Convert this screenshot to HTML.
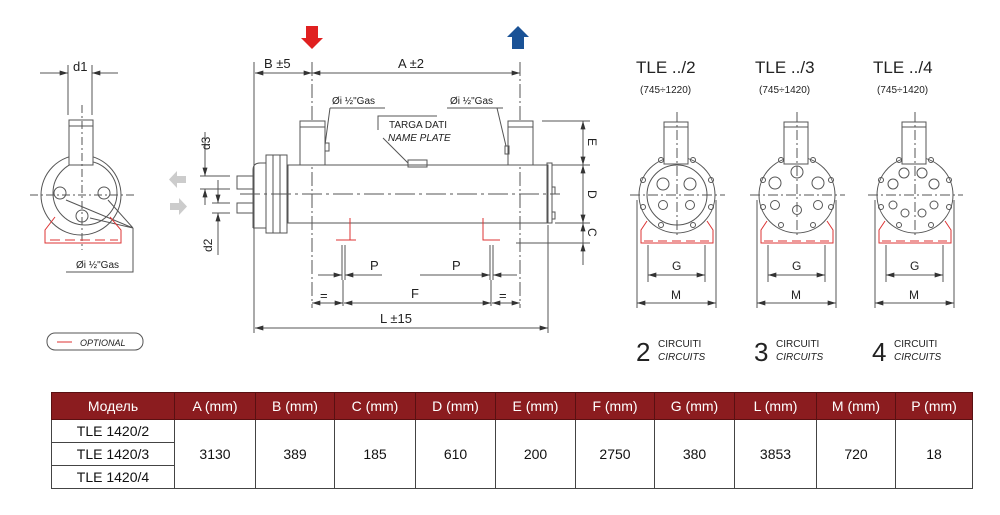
<!DOCTYPE html>
<html><head><meta charset="utf-8"><style>
body{margin:0;background:#fff;width:1000px;height:515px;overflow:hidden;font-family:"Liberation Sans","Noto Sans CJK SC",sans-serif}
svg{position:absolute;left:0;top:0}
.t{font-family:"Liberation Sans",sans-serif;fill:#222}
table{position:absolute;left:51px;top:392px;border-collapse:collapse;font-family:"Liberation Sans","DejaVu Sans",sans-serif;font-size:14px;color:#111}
td,th{border:1px solid #444;text-align:center;padding:0}
th{background:#8b1c1f;color:#fff;font-weight:normal;height:26px;border-color:#5a1012}
td{height:22px}
</style></head><body>
<svg width="1000" height="390" viewBox="0 0 1000 390">
<defs>
<marker id="a" viewBox="0 0 10 6" refX="10" refY="3" markerWidth="9" markerHeight="5" orient="auto-start-reverse"><path d="M0,0L10,3L0,6z" fill="#333"/></marker>
</defs>
<g stroke="#555" stroke-width="1" fill="none">
<!-- left end view -->
<line x1="68" y1="65" x2="68" y2="115"/><line x1="92" y1="65" x2="92" y2="115"/>
<line x1="40" y1="73" x2="68" y2="73" marker-end="url(#a)"/><line x1="118" y1="73" x2="92" y2="73" marker-end="url(#a)"/>
<circle cx="81" cy="195" r="40"/><circle cx="85" cy="193" r="32"/>
<rect x="69" y="120" width="24" height="45" fill="#fff"/><line x1="69" y1="126" x2="93" y2="126"/>
<line x1="30" y1="195" x2="135" y2="195" stroke-dasharray="8,3,2,3"/>
<line x1="82" y1="105" x2="82" y2="250" stroke-dasharray="8,3,2,3"/>
<circle cx="60" cy="193" r="6"/><circle cx="104" cy="193" r="6"/><circle cx="82" cy="216" r="6"/>
<path d="M133,228L66,200M133,228L108,200M133,228L90,218M133,228L133,272L66,272"/>
<!-- main view -->
<line x1="254" y1="62" x2="254" y2="333"/>
<line x1="312" y1="62" x2="312" y2="308" stroke-dasharray="14,3,2,3"/>
<line x1="520" y1="62" x2="520" y2="308" stroke-dasharray="14,3,2,3"/>
<line x1="548" y1="225" x2="548" y2="333"/>
<line x1="255" y1="73" x2="312" y2="73" marker-start="url(#a)" marker-end="url(#a)"/>
<line x1="312" y1="73" x2="520" y2="73" marker-start="url(#a)" marker-end="url(#a)"/>
<rect x="288" y="165" width="260" height="58"/>
<rect x="547" y="163" width="5" height="60"/>
<rect x="552" y="187" width="3" height="7"/><rect x="552" y="212" width="3" height="7"/>
<rect x="300" y="121" width="25" height="44" fill="#fff"/><line x1="300" y1="127" x2="325" y2="127"/>
<rect x="508" y="121" width="25" height="44" fill="#fff"/><line x1="508" y1="127" x2="533" y2="127"/>
<rect x="325" y="143" width="4" height="8"/><rect x="505" y="146" width="4" height="8"/>
<rect x="408" y="160" width="19" height="7"/>
<path d="M253,228L253,170Q253,163 260,163L266,163"/><line x1="253" y1="228" x2="266" y2="228"/>
<rect x="266" y="155" width="21" height="78" fill="#fff"/><line x1="273" y1="155" x2="273" y2="233"/><line x1="280" y1="155" x2="280" y2="233"/>
<rect x="237" y="176" width="16" height="13"/><rect x="237" y="203" width="16" height="10"/>
<line x1="240" y1="194" x2="560" y2="194" stroke-dasharray="20,4,3,4"/>
<path d="M200,176H230M200,189H230M212,203H230M212,213H230"/>
<line x1="205" y1="132" x2="205" y2="176" marker-end="url(#a)"/><line x1="205" y1="205" x2="205" y2="189" marker-end="url(#a)"/>
<line x1="218" y1="180" x2="218" y2="203" marker-end="url(#a)"/><line x1="218" y1="255" x2="218" y2="213" marker-end="url(#a)"/>
<path d="M330,108H385M330,108L325,145M447,108H503M497,108L506,146M383,138L408,163M378,130V116H437"/>
<!-- right dims -->
<path d="M542,121H590M552,165H590M555,223H590M516,243H590"/>
<line x1="583" y1="121" x2="583" y2="165" marker-start="url(#a)" marker-end="url(#a)"/>
<line x1="583" y1="165" x2="583" y2="223" marker-start="url(#a)" marker-end="url(#a)"/>
<line x1="583" y1="223" x2="583" y2="243" marker-start="url(#a)"/>
<line x1="583" y1="243" x2="583" y2="265" marker-start="url(#a)"/>
<!-- P, F, L -->
<path d="M342,245V280M345,245V280M490,245V280M493,245V280"/>
<line x1="318" y1="275" x2="342" y2="275" marker-end="url(#a)"/><line x1="382" y1="275" x2="345" y2="275" marker-end="url(#a)"/>
<line x1="420" y1="275" x2="490" y2="275" marker-end="url(#a)"/><line x1="517" y1="275" x2="493" y2="275" marker-end="url(#a)"/>
<line x1="343" y1="280" x2="343" y2="306"/><line x1="491" y1="280" x2="491" y2="306"/>
<line x1="312" y1="303" x2="343" y2="303" marker-start="url(#a)" marker-end="url(#a)"/>
<line x1="344" y1="303" x2="491" y2="303" marker-start="url(#a)" marker-end="url(#a)"/>
<line x1="492" y1="303" x2="520" y2="303" marker-start="url(#a)" marker-end="url(#a)"/>
<line x1="255" y1="328" x2="548" y2="328" marker-start="url(#a)" marker-end="url(#a)"/>
<rect x="47" y="333" width="96" height="17" rx="8"/>
</g>
<g stroke="#d33" stroke-width="1" fill="none">
<path d="M55,217L45,230V243H121V230L110,217"/><path d="M50,240H118" stroke-dasharray="10,5"/>
<path d="M350,218V240H336M350,240H356M483,218V240H500"/>
<line x1="57" y1="342" x2="72" y2="342"/>
</g>
<path d="M306,26h12v12h5l-11,11l-11,-11h5z" fill="#e02020"/>
<path d="M512,49h12v-12h5l-11,-11l-11,11h5z" fill="#1a5296"/>
<path d="M186,176h-9v-5l-8,8.5l8,8.5v-5h9z" fill="#ccc"/>
<path d="M170,203h9v-5l8,8.5l-8,8.5v-5h-9z" fill="#ccc"/>
<g class="t" font-size="13">
<text x="73" y="71">d1</text>
<text x="264" y="68">B ±5</text><text x="398" y="68">A ±2</text>
<text x="332" y="104" font-size="10">Øi ½"Gas</text><text x="450" y="104" font-size="10">Øi ½"Gas</text>
<text x="389" y="128" font-size="10">TARGA DATI</text><text x="388" y="141" font-size="10" font-style="italic">NAME PLATE</text>
<text x="76" y="268" font-size="10">Øi ½"Gas</text>
<text x="80" y="346" font-size="9" font-style="italic">OPTIONAL</text>
<text transform="translate(210,150) rotate(-90)" font-size="12">d3</text>
<text transform="translate(212,252) rotate(-90)" font-size="12">d2</text>
<text transform="translate(588,138) rotate(90)" font-size="12">E</text>
<text transform="translate(588,190) rotate(90)" font-size="12">D</text>
<text transform="translate(588,228) rotate(90)" font-size="12">C</text>
<text x="370" y="270">P</text><text x="452" y="270">P</text>
<text x="320" y="300">=</text><text x="499" y="300">=</text><text x="411" y="298">F</text>
<text x="380" y="323">L ±15</text>
</g>
<!-- right side views -->
<g id="v1">
<g stroke="#555" fill="none">
<circle cx="677" cy="195" r="38"/><circle cx="677" cy="195" r="30"/>
<rect x="664" y="122" width="24" height="42" fill="#fff"/><line x1="664" y1="127" x2="688" y2="127"/>
<line x1="630" y1="195" x2="725" y2="195" stroke-dasharray="10,3,2,3"/><line x1="677" y1="112" x2="677" y2="235" stroke-dasharray="10,3,2,3"/>
<circle cx="663" cy="184" r="6"/><circle cx="690" cy="184" r="6"/><circle cx="663" cy="205" r="4.5"/><circle cx="690" cy="205" r="4.5"/>
<circle cx="661" cy="160" r="2.5"/><circle cx="693" cy="160" r="2.5"/><circle cx="643" cy="180" r="2.5"/><circle cx="711" cy="180" r="2.5"/><circle cx="643" cy="207" r="2.5"/><circle cx="711" cy="207" r="2.5"/><circle cx="661" cy="225" r="2.5"/><circle cx="693" cy="225" r="2.5"/>
<path d="M648,245V282M705,245V282M637,200V308M716,200V308"/>
<line x1="648" y1="275" x2="705" y2="275" marker-start="url(#a)" marker-end="url(#a)"/>
<line x1="637" y1="303" x2="716" y2="303" marker-start="url(#a)" marker-end="url(#a)"/>
</g>
<g stroke="#d33" fill="none"><path d="M647,221L641,230V243H713V230L707,221"/><path d="M644,241H712" stroke-dasharray="9,5"/></g>
</g>
<g stroke="#555" fill="none">
<circle cx="797" cy="195" r="38"/>
<rect x="784" y="122" width="24" height="42" fill="#fff"/><line x1="784" y1="127" x2="808" y2="127"/>
<line x1="750" y1="195" x2="845" y2="195" stroke-dasharray="10,3,2,3"/><line x1="797" y1="112" x2="797" y2="235" stroke-dasharray="10,3,2,3"/>
<circle cx="797" cy="172" r="6"/><circle cx="775" cy="183" r="6"/><circle cx="818" cy="183" r="6"/><circle cx="775" cy="205" r="4.5"/><circle cx="818" cy="205" r="4.5"/><circle cx="797" cy="210" r="4.5"/>
<circle cx="781" cy="160" r="2.5"/><circle cx="813" cy="160" r="2.5"/><circle cx="763" cy="180" r="2.5"/><circle cx="831" cy="180" r="2.5"/><circle cx="763" cy="207" r="2.5"/><circle cx="831" cy="207" r="2.5"/><circle cx="781" cy="225" r="2.5"/><circle cx="813" cy="225" r="2.5"/>
<path d="M768,245V282M825,245V282M757,200V308M836,200V308"/>
<line x1="768" y1="275" x2="825" y2="275" marker-start="url(#a)" marker-end="url(#a)"/>
<line x1="757" y1="303" x2="836" y2="303" marker-start="url(#a)" marker-end="url(#a)"/>
<circle cx="915" cy="195" r="38"/>
<rect x="902" y="122" width="24" height="42" fill="#fff"/><line x1="902" y1="127" x2="926" y2="127"/>
<line x1="868" y1="195" x2="963" y2="195" stroke-dasharray="10,3,2,3"/><line x1="915" y1="112" x2="915" y2="235" stroke-dasharray="10,3,2,3"/>
<circle cx="893" cy="184" r="5"/><circle cx="904" cy="173" r="5"/><circle cx="922" cy="173" r="5"/><circle cx="934" cy="184" r="5"/>
<circle cx="893" cy="205" r="4"/><circle cx="905" cy="213" r="4"/><circle cx="922" cy="213" r="4"/><circle cx="934" cy="205" r="4"/>
<circle cx="899" cy="160" r="2.5"/><circle cx="931" cy="160" r="2.5"/><circle cx="881" cy="180" r="2.5"/><circle cx="949" cy="180" r="2.5"/><circle cx="881" cy="207" r="2.5"/><circle cx="949" cy="207" r="2.5"/><circle cx="899" cy="225" r="2.5"/><circle cx="931" cy="225" r="2.5"/>
<path d="M886,245V282M943,245V282M875,200V308M954,200V308"/>
<line x1="886" y1="275" x2="943" y2="275" marker-start="url(#a)" marker-end="url(#a)"/>
<line x1="875" y1="303" x2="954" y2="303" marker-start="url(#a)" marker-end="url(#a)"/>
</g>
<g stroke="#d33" fill="none">
<path d="M767,221L761,230V243H833V230L827,221"/><path d="M764,241H832" stroke-dasharray="9,5"/>
<path d="M885,221L879,230V243H951V230L945,221"/><path d="M882,241H950" stroke-dasharray="9,5"/>
</g>
<g class="t">
<text x="636" y="73" font-size="17">TLE ../2</text><text x="640" y="93" font-size="10">(745÷1220)</text>
<text x="755" y="73" font-size="17">TLE ../3</text><text x="759" y="93" font-size="10">(745÷1420)</text>
<text x="873" y="73" font-size="17">TLE ../4</text><text x="877" y="93" font-size="10">(745÷1420)</text>
<text x="672" y="270" font-size="12">G</text><text x="792" y="270" font-size="12">G</text><text x="910" y="270" font-size="12">G</text>
<text x="671" y="299" font-size="12">M</text><text x="791" y="299" font-size="12">M</text><text x="909" y="299" font-size="12">M</text>
<text x="636" y="361" font-size="26">2</text><text x="658" y="347" font-size="10">CIRCUITI</text><text x="658" y="360" font-size="10" font-style="italic">CIRCUITS</text>
<text x="754" y="361" font-size="26">3</text><text x="776" y="347" font-size="10">CIRCUITI</text><text x="776" y="360" font-size="10" font-style="italic">CIRCUITS</text>
<text x="872" y="361" font-size="26">4</text><text x="894" y="347" font-size="10">CIRCUITI</text><text x="894" y="360" font-size="10" font-style="italic">CIRCUITS</text>
</g>
</svg>
<table>
<tr><th style="width:122px">Модель</th><th style="width:80px">A (mm)</th><th style="width:78px">B (mm)</th><th style="width:80px">C (mm)</th><th style="width:79px">D (mm)</th><th style="width:79px">E (mm)</th><th style="width:78px">F (mm)</th><th style="width:79px">G (mm)</th><th style="width:81px">L (mm)</th><th style="width:78px">M (mm)</th><th style="width:76px">P (mm)</th></tr>
<tr><td>TLE 1420/2</td><td rowspan="3">3130</td><td rowspan="3">389</td><td rowspan="3">185</td><td rowspan="3">610</td><td rowspan="3">200</td><td rowspan="3">2750</td><td rowspan="3">380</td><td rowspan="3">3853</td><td rowspan="3">720</td><td rowspan="3">18</td></tr>
<tr><td>TLE 1420/3</td></tr>
<tr><td>TLE 1420/4</td></tr>
</table>
</body></html>
